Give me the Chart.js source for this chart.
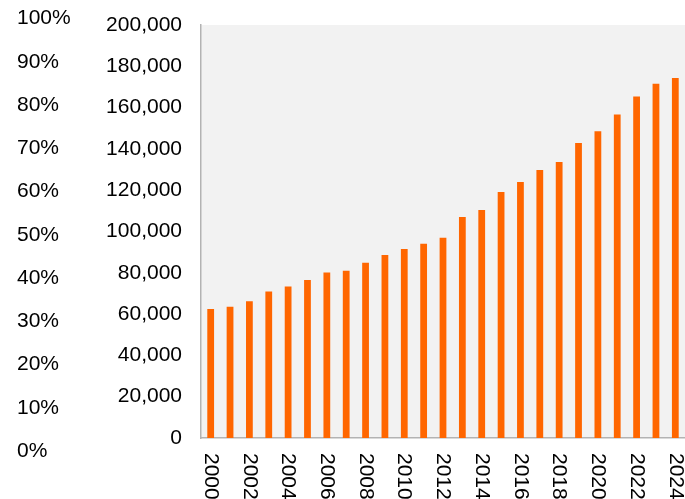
<!DOCTYPE html>
<html>
<head>
<meta charset="utf-8">
<script src="https://cdn.jsdelivr.net/npm/chart.js@4"></script>
<style>
  html, body { margin: 0; padding: 0; background: #fff; }
  #wrap { width: 685px; height: 499px; position: relative; }
</style>
</head>
<body>
<div id="wrap"><canvas id="chart"></canvas></div>
<script>
// ===== Data =====
const years = ['2000', '2001', '2002', '2003', '2004', '2005', '2006', '2007', '2008', '2009',
  '2010', '2011', '2012', '2013', '2014', '2015', '2016', '2017', '2018', '2019',
  '2020', '2021', '2022', '2023', '2024'];
const values = [62500, 63600, 66200, 71000, 73400, 76500, 80100, 81000, 84900, 88600,
  91500, 94100, 97000, 107000, 110400, 119100, 124000, 129800, 133700, 142900,
  148500, 156700, 165400, 171600, 174300];
const valueTicks = [0, 20000, 40000, 60000, 80000, 100000, 120000, 140000, 160000, 180000, 200000];
const percentTicks = [0, 10, 20, 30, 40, 50, 60, 70, 80, 90, 100];

const FONT = { family: '"Liberation Sans", Arial, sans-serif', size: 21 };

// gray plot background
const plotBackground = {
  id: 'plotBackground',
  beforeDraw(chart) {
    const { ctx, chartArea: a } = chart;
    ctx.save();
    ctx.fillStyle = '#f2f2f2';
    ctx.fillRect(a.left, a.top, a.right - a.left, a.bottom - a.top);
    ctx.restore();
  }
};

// year labels run top-to-bottom, every second category
const yearLabels = {
  id: 'yearLabels',
  afterDraw(chart) {
    const { ctx, scales: { x } } = chart;
    ctx.save();
    ctx.font = `${FONT.size}px ${FONT.family}`;
    ctx.fillStyle = '#000';
    ctx.textAlign = 'left';
    ctx.textBaseline = 'middle';
    years.forEach((label, i) => {
      if (i % 2 !== 0) return;
      ctx.save();
      ctx.translate(x.getPixelForTick(i), x.bottom - 46);
      ctx.rotate(Math.PI / 2);
      ctx.fillText(label, 0, 0);
      ctx.restore();
    });
    ctx.restore();
  }
};

// vertical axes: fixed width, no extra edge padding
function fixAxis(width) {
  return scale => {
    scale.width = width;
    scale.paddingTop = 0;
    scale.paddingBottom = 0;
  };
}

new Chart(document.getElementById('chart'), {
  type: 'bar',
  data: {
    labels: years,
    datasets: [{
      data: values,
      backgroundColor: '#ff6600',
      barPercentage: 0.35,
      categoryPercentage: 1,
      yAxisID: 'y'
    }]
  },
  options: {
    responsive: true,
    maintainAspectRatio: false,
    animation: false,
    layout: { padding: { top: 25, left: 17, right: 0, bottom: 0 } },
    plugins: { legend: { display: false }, tooltip: { enabled: false } },
    scales: {
      x: {
        type: 'category',
        offset: true,
        grid: { display: false, drawTicks: false },
        border: { display: true, color: '#b3b3b3', width: 1.5 },
        ticks: { display: false },
        afterFit(scale) { scale.height = 61; scale.paddingLeft = 0; scale.paddingRight = 0; }
      },
      y: {
        position: 'left',
        weight: 0,
        min: 0,
        max: 200000,
        grid: { display: false, drawTicks: false },
        border: { display: true, color: '#b3b3b3', width: 1.5 },
        afterBuildTicks(scale) { scale.ticks = valueTicks.map(v => ({ value: v })); },
        ticks: {
          autoSkip: false,
          padding: 19,
          color: '#000',
          font: FONT,
          callback: v => v.toLocaleString('en-US')
        },
        afterFit: fixAxis(120)
      },
      pct: {
        type: 'linear',
        display: true,
        position: 'left',
        weight: 1,
        bounds: 'data',
        min: 3.05,
        max: 98.5,
        grid: { display: false, drawTicks: false },
        border: { display: false },
        afterBuildTicks(scale) { scale.ticks = percentTicks.map(v => ({ value: v })); },
        ticks: {
          autoSkip: false,
          crossAlign: 'far',
          color: '#000',
          font: FONT,
          callback: v => v + '%'
        },
        afterFit: fixAxis(64)
      }
    }
  },
  plugins: [plotBackground, yearLabels]
});
</script>
</body>
</html>
